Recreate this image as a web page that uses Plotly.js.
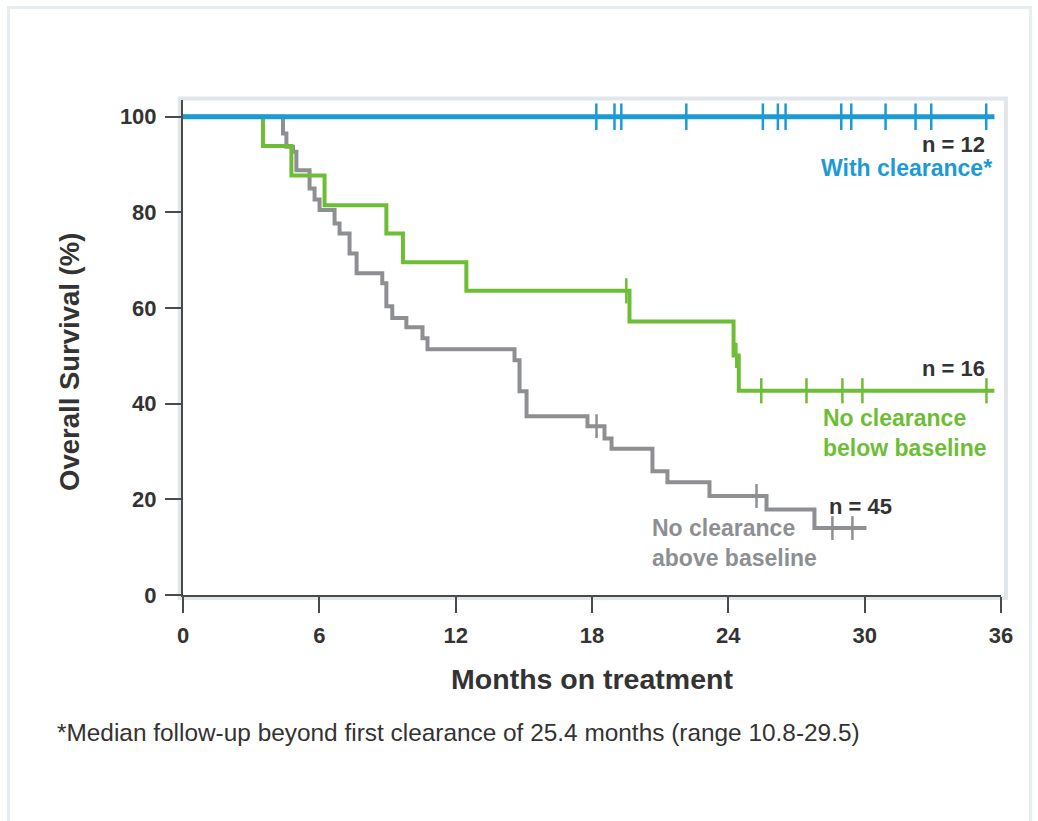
<!DOCTYPE html>
<html>
<head>
<meta charset="utf-8">
<script src="https://cdn.plot.ly/plotly-3.0.1.min.js"></script>
<style>
  html, body { margin: 0; padding: 0; background: #ffffff; }
  #chart { width: 1038px; height: 821px; position: relative; }
  #frame { position: absolute; left: 7px; top: 6px; width: 1025px; height: 830px;
           border: 3px solid #e6edf3; pointer-events: none; z-index: 5; box-sizing: border-box; }
</style>
</head>
<body>
<div id="frame"></div>
<div id="chart"></div>
<script>
// ---- Data (months on treatment, overall survival %) ----
const xTicks = [0, 6, 12, 18, 24, 30, 36];
const yTicks = [0, 20, 40, 60, 80, 100];

// With clearance (n = 12): no deaths
const blueTimes = [0, 35.71];
const blueSurv = [100, 100];
const blueCensor = [18.19, 18.99, 19.29, 22.15, 25.52, 26.18, 26.52, 28.97, 29.41, 30.92, 32.24, 32.93, 35.35];

// No clearance, below baseline (n = 16)
const greenTimes = [0, 3.52, 4.77, 6.23, 8.95, 9.68, 12.47, 19.65, 24.23, 24.46, 35.71];
const greenSurv = [100, 93.9, 87.7, 81.5, 75.6, 69.6, 63.6, 57.2, 50.1, 42.7, 42.7];
const greenCensor = [19.51, 24.35, 25.45, 27.44, 29.02, 29.90, 35.36];

// No clearance, above baseline (n = 45)
const grayTimes = [0, 4.40, 4.55, 4.84, 4.99, 5.57, 5.79, 6.01, 6.67, 6.89, 7.33, 7.64, 8.77, 8.95, 9.21, 9.83, 10.54, 10.76, 14.59, 14.81, 15.12, 17.80, 18.55, 18.86, 20.66, 21.32, 23.17, 25.68, 27.79, 30.08];
const graySurv = [100, 96.5, 93.7, 92.7, 88.8, 85.0, 82.7, 80.5, 77.7, 75.6, 71.4, 67.3, 65.2, 60.4, 57.9, 56.0, 53.7, 51.4, 49.1, 42.6, 37.4, 35.3, 32.7, 30.6, 25.9, 23.6, 20.7, 17.9, 14.0, 14.0];
const grayCensor = [18.20, 25.24, 28.58, 29.46];

// ---- Helpers ----
function stepAt(times, surv, t) {
  let v = surv[0];
  for (let i = 0; i < times.length; i++) { if (times[i] <= t) v = surv[i]; }
  return v;
}

const BLUE = '#1c9ad6', GREEN = '#6dbe35', GRAY = '#8e8f93';
const FONT = 'Liberation Sans, Arial, sans-serif';

function curve(times, surv, color, width, name) {
  return { type: 'scatter', mode: 'lines', x: times, y: surv, name: name,
           line: { shape: 'hv', color: color, width: width }, hoverinfo: 'skip', showlegend: false };
}
function censor(times, ctimes, surv, color, size, name) {
  return { type: 'scatter', mode: 'markers', x: ctimes, y: ctimes.map(t => stepAt(times, surv, t)), name: name,
           marker: { symbol: 'line-ns', size: size, color: color, line: { color: color, width: 2.5 } },
           hoverinfo: 'skip', showlegend: false };
}

const data = [
  curve(grayTimes, graySurv, GRAY, 4, 'No clearance above baseline'),
  censor(grayTimes, grayCensor, graySurv, GRAY, 17, 'censored (above baseline)'),
  curve(greenTimes, greenSurv, GREEN, 4, 'No clearance below baseline'),
  censor(greenTimes, greenCensor, greenSurv, GREEN, 18, 'censored (below baseline)'),
  curve(blueTimes, blueSurv, BLUE, 5, 'With clearance'),
  censor(blueTimes, blueCensor, blueSurv, BLUE, 19, 'censored (with clearance)')
];

const layout = {
  width: 1038, height: 821,
  margin: { l: 183, r: 37, t: 100, b: 226 },
  paper_bgcolor: '#ffffff', plot_bgcolor: '#ffffff',
  font: { family: FONT, color: '#333333' },
  showlegend: false,
  xaxis: {
    range: [0, 36], tickvals: xTicks, ticktext: xTicks.map(String),
    showgrid: false, zeroline: false, showline: true, linecolor: '#4a4a4a', linewidth: 2,
    ticks: 'outside', ticklen: 16, tickwidth: 2, tickcolor: '#4a4a4a', ticklabelstandoff: 4,
    tickfont: { family: FONT, size: 22, color: '#333333', weight: 'bold' },
    title: { text: '<b>Months on treatment</b>', font: { family: FONT, size: 28.5, color: '#333333' }, standoff: 22 },
    fixedrange: true
  },
  yaxis: {
    range: [0, 103.5], tickvals: yTicks, ticktext: yTicks.map(String),
    showgrid: false, zeroline: false, showline: true, linecolor: '#4a4a4a', linewidth: 2,
    ticks: 'outside', ticklen: 16, tickwidth: 2, tickcolor: '#4a4a4a', ticklabelstandoff: 4,
    tickfont: { family: FONT, size: 22, color: '#333333', weight: 'bold' },
    fixedrange: true
  },
  shapes: [
    { type: 'rect', xref: 'paper', yref: 'paper', x0: -0.004, x1: 1.006, y0: -0.006, y1: 1.003,
      line: { color: '#e1e6ea', width: 4 }, layer: 'below' }
  ],
  annotations: [
    { x: -0.138, y: 0.471, xref: 'paper', yref: 'paper', xanchor: 'center', yanchor: 'middle', textangle: -90,
      showarrow: false, text: '<b>Overall Survival (%)</b>', font: { family: FONT, size: 27.5, color: '#333333' } },
    { x: 35.4, y: 94.3, xref: 'x', yref: 'y', xanchor: 'right', yanchor: 'middle', showarrow: false,
      text: '<b>n = 12</b>', font: { family: FONT, size: 22, color: '#333333' } },
    { x: 35.71, y: 89.3, xref: 'x', yref: 'y', xanchor: 'right', yanchor: 'middle', showarrow: false,
      text: '<b>With clearance*</b>', font: { family: FONT, size: 23, color: BLUE } },
    { x: 35.4, y: 47.3, xref: 'x', yref: 'y', xanchor: 'right', yanchor: 'middle', showarrow: false,
      text: '<b>n = 16</b>', font: { family: FONT, size: 22, color: '#333333' } },
    { x: 28.1, y: 33.8, xref: 'x', yref: 'y', xanchor: 'left', yanchor: 'middle', align: 'left', showarrow: false,
      text: '<b>No clearance<br>below baseline</b>', font: { family: FONT, size: 23, color: GREEN } },
    { x: 28.36, y: 18.6, xref: 'x', yref: 'y', xanchor: 'left', yanchor: 'middle', showarrow: false,
      text: '<b>n = 45</b>', font: { family: FONT, size: 22, color: '#333333' } },
    { x: 20.57, y: 10.9, xref: 'x', yref: 'y', xanchor: 'left', yanchor: 'middle', align: 'left', showarrow: false,
      text: '<b>No clearance<br>above baseline</b>', font: { family: FONT, size: 23, color: GRAY } },
    { x: -0.157, y: -0.277, xref: 'paper', yref: 'paper', xanchor: 'left', yanchor: 'middle', showarrow: false,
      text: '*Median follow-up beyond first clearance of 25.4 months (range 10.8-29.5)',
      font: { family: FONT, size: 24.4, color: '#333333' } }
  ]
};

Plotly.newPlot('chart', data, layout, { displayModeBar: false, staticPlot: true });
</script>
</body>
</html>
